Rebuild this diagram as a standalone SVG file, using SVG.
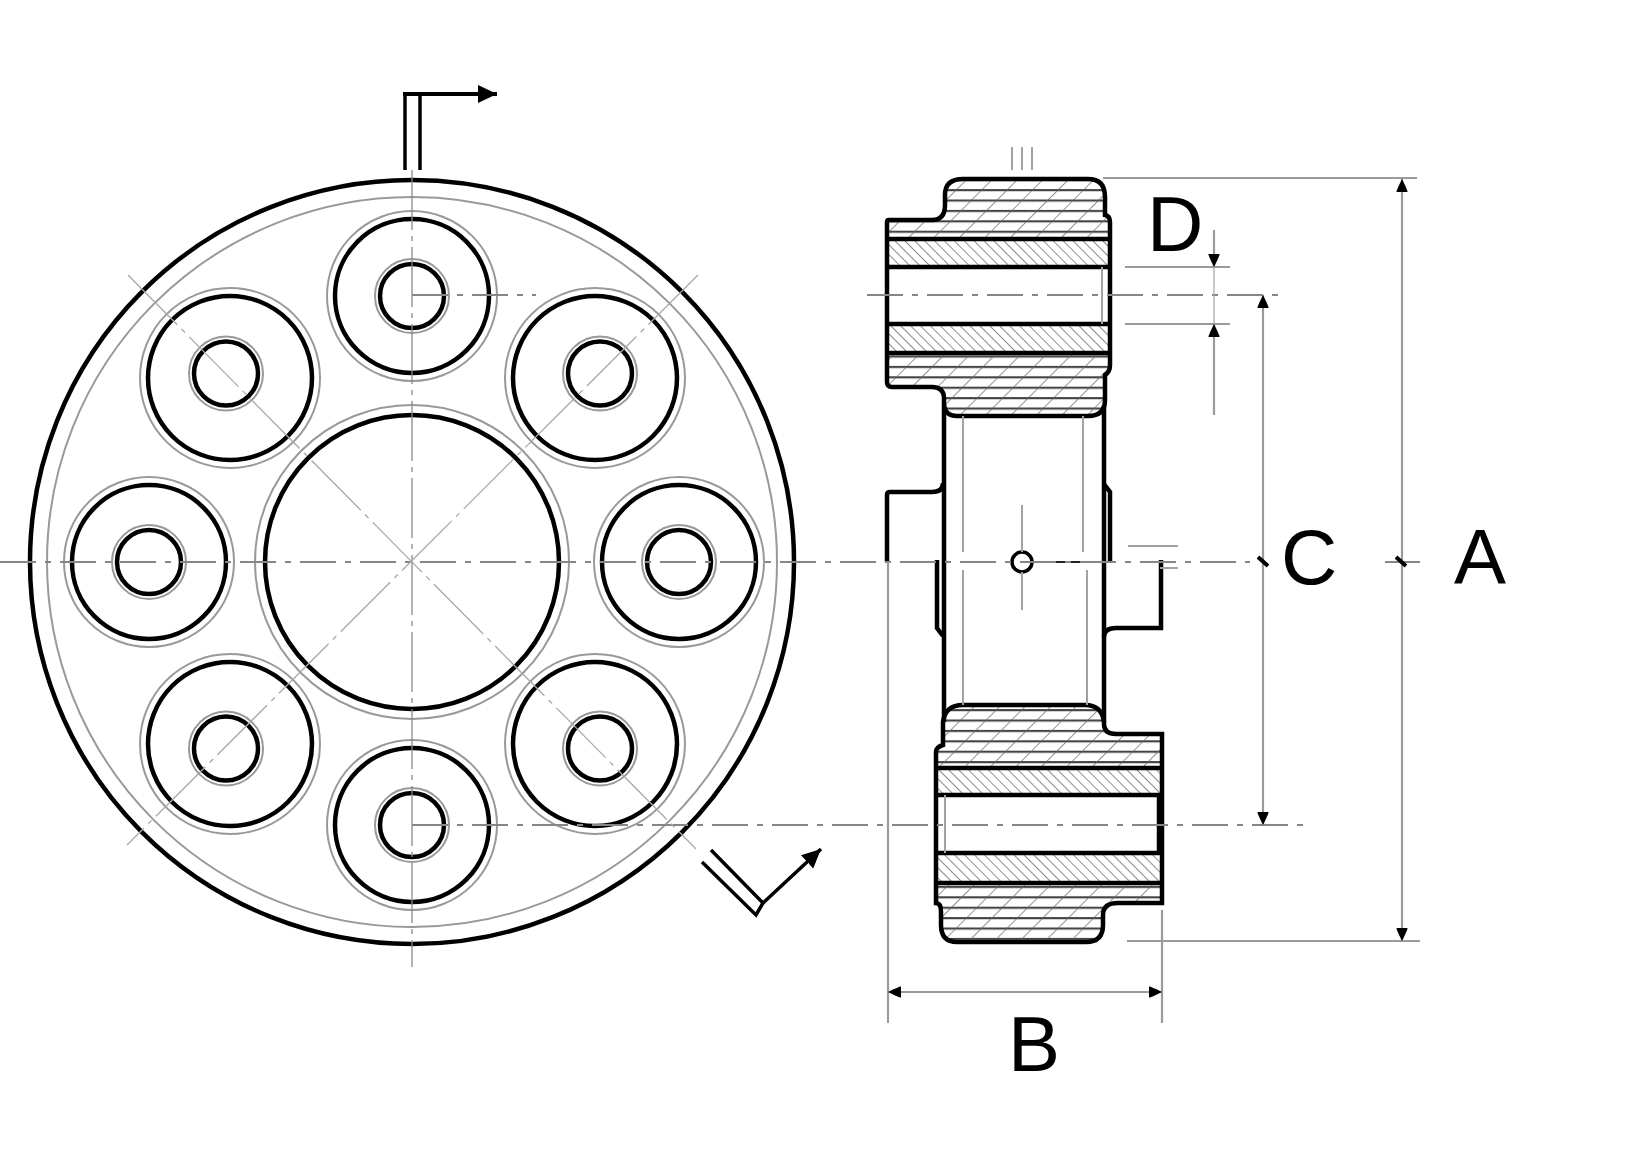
<svg xmlns="http://www.w3.org/2000/svg" width="1625" height="1170" viewBox="0 0 1625 1170">
<style>
.thick{fill:none;stroke:#000;stroke-width:4.500}
.ring{fill:none;stroke:#999;stroke-width:2}
.cl{fill:none;stroke:#868686;stroke-width:2.200;stroke-dasharray:36 9 6 9}
.thin{fill:none;stroke:#a2a2a2;stroke-width:2}
.diag{fill:none;stroke:#a8a8a8;stroke-width:1.300;stroke-dasharray:70 6 5 6}
.dim{fill:none;stroke:#9a9a9a;stroke-width:2.200}
.tick{fill:none;stroke:#000;stroke-width:4}
.lab{font-family:"Liberation Sans",Arial,sans-serif;font-size:78px;fill:#000}
</style>
<defs>
<filter id="soft" x="0" y="0" width="100%" height="100%" filterUnits="userSpaceOnUse"><feGaussianBlur stdDeviation="0.5"/></filter>
<pattern id="hub" patternUnits="userSpaceOnUse" width="34" height="10.400">
<rect width="34" height="10.400" fill="#fff"/>
<path d="M0 3H34" stroke="#444" stroke-width="2"/>
</pattern>
<pattern id="hubd" patternUnits="userSpaceOnUse" width="18" height="30" patternTransform="rotate(45)">
<path d="M0 0V30" stroke="#666" stroke-width="1.400"/>
</pattern>
<pattern id="bush" patternUnits="userSpaceOnUse" width="7" height="8" patternTransform="rotate(-45)">
<rect width="8" height="8" fill="#fff"/>
<path d="M0 0V8" stroke="#8e8e8e" stroke-width="2"/>
</pattern>
<marker id="ah" markerUnits="userSpaceOnUse" markerWidth="16" markerHeight="14" refX="14" refY="7" orient="auto-start-reverse">
<path d="M1 1.500Q2 1 14 7Q2 13 1 12.500Z" fill="#000"/>
</marker>
<marker id="big" markerUnits="userSpaceOnUse" markerWidth="20" markerHeight="20" refX="19" refY="10" orient="auto">
<path d="M0 1L19 10L0 19Z" fill="#000"/>
</marker>
<path id="hubU" d="M887 222Q887 220 889 220L932 220Q945 220 945 205L945 195Q945 179 963 179L1088 179Q1105 179 1105 197L1105 215Q1110 216 1110 222L1110 365Q1110 372 1105 375L1105 400Q1105 416 1088 416L957 416Q944 416 944 403L944 397Q943 387 932 387L892 387Q887 387 887 382Z"/>
<path id="hubL" d="M963 705L1085 705Q1102 705 1104 722L1104 724Q1104 734 1116 734L1162 734L1162 903L1118 903Q1103 903 1103 915L1103 925Q1103 942 1086 942L957 942Q941 942 941 925L941 912Q941 903 936 903L936 752Q936 747 943 745L943 722Q945 705 963 705Z"/>
</defs>
<rect width="1625" height="1170" fill="#fff"/>

<g filter="url(#soft)">
<g id="front-view">
<g id="flange">
<circle cx="412" cy="562" r="382" class="thick"/>
<circle cx="412" cy="562" r="365" class="ring"/>
</g>
<g id="centre-bore">
<circle cx="412" cy="562" r="147" class="thick"/>
<circle cx="412" cy="562" r="157" class="ring"/>
</g>
<g id="hole-top">
<circle cx="412" cy="296" r="77" class="thick"/><circle cx="412" cy="296" r="85" class="ring"/>
<circle cx="412" cy="296" r="32" class="thick"/><circle cx="412" cy="296" r="37" class="ring"/>
</g>
<g id="hole-upper-right">
<circle cx="595" cy="378" r="82" class="thick"/><circle cx="595" cy="378" r="90" class="ring"/>
<circle cx="600" cy="373.500" r="32" class="thick"/><circle cx="600" cy="373.500" r="37" class="ring"/>
</g>
<g id="hole-right">
<circle cx="679" cy="562" r="77" class="thick"/><circle cx="679" cy="562" r="85" class="ring"/>
<circle cx="679" cy="562" r="32" class="thick"/><circle cx="679" cy="562" r="37" class="ring"/>
</g>
<g id="hole-lower-right">
<circle cx="595" cy="744" r="82" class="thick"/><circle cx="595" cy="744" r="90" class="ring"/>
<circle cx="600" cy="748.500" r="32" class="thick"/><circle cx="600" cy="748.500" r="37" class="ring"/>
</g>
<g id="hole-bottom">
<circle cx="412" cy="825" r="77" class="thick"/><circle cx="412" cy="825" r="85" class="ring"/>
<circle cx="412" cy="825" r="32" class="thick"/><circle cx="412" cy="825" r="37" class="ring"/>
</g>
<g id="hole-lower-left">
<circle cx="230" cy="744" r="82" class="thick"/><circle cx="230" cy="744" r="90" class="ring"/>
<circle cx="226" cy="748.500" r="32" class="thick"/><circle cx="226" cy="748.500" r="37" class="ring"/>
</g>
<g id="hole-left">
<circle cx="149" cy="562" r="77" class="thick"/><circle cx="149" cy="562" r="85" class="ring"/>
<circle cx="149" cy="562" r="32" class="thick"/><circle cx="149" cy="562" r="37" class="ring"/>
</g>
<g id="hole-upper-left">
<circle cx="230" cy="378" r="82" class="thick"/><circle cx="230" cy="378" r="90" class="ring"/>
<circle cx="226" cy="373.500" r="32" class="thick"/><circle cx="226" cy="373.500" r="37" class="ring"/>
</g>
</g>

<g id="side-view">
<g id="hub-upper">
<use href="#hubU" fill="url(#hub)"/><use href="#hubU" fill="url(#hubd)"/>
<rect x="889" y="239" width="220" height="28" fill="url(#bush)"/>
<rect x="889" y="324" width="220" height="29" fill="url(#bush)"/>
<rect x="889" y="267" width="220" height="57" fill="#fff"/>
<use href="#hubU" class="thick"/>
<path d="M887 239H1110M889 267H1110M889 324H1110M887 353H1110" class="thick"/>
<path d="M1102 267V324" class="thin"/>
</g>
<g id="hub-lower">
<use href="#hubL" fill="url(#hub)"/><use href="#hubL" fill="url(#hubd)"/>
<rect x="937" y="768" width="224" height="27" fill="url(#bush)"/>
<rect x="937" y="853" width="224" height="30" fill="url(#bush)"/>
<rect x="937" y="795" width="224" height="58" fill="#fff"/>
<use href="#hubL" class="thick"/>
<path d="M936 768H1162M938 795H1160M938 853H1160M936 883H1162" class="thick"/>
<path d="M945 795V853" class="thin"/>
<path d="M1159 795V853" class="thick"/>
</g>
<g id="web">
<path d="M944 405V722M1104 405V722" class="thick"/>
<path d="M963 416V552M963 570V705M1083 416V552M1087 570V705" class="thin"/>
<path d="M887 562V495Q887 492 890 492L932 492Q943 492 943 483" class="thick"/>
<path d="M1104 484L1110 492V561" class="thick"/>
<path d="M937 560V628L943 636" class="thick"/>
<path d="M1161 560V628H1116Q1104 628 1104 637" class="thick"/>
</g>
<g id="grease-nipple">
<circle cx="1022" cy="562" r="10" fill="#fff" stroke="#000" stroke-width="3.500"/>
<path d="M1022 505V552M1022 572V610" class="thin"/>
<path d="M1032 562H1085" stroke="#222" stroke-width="2" fill="none"/>
<path d="M1128 546H1178M1160 568H1178" class="thin"/>
</g>
<path d="M1012 147V170M1022 147V170M1032 147V170" class="thin"/>
</g>

<g id="connectors">
<g id="centre-lines">
<path d="M0 562H1250M1385 562H1420" class="cl"/>
<path d="M867 295H1278" class="cl"/>
<path d="M412 825H1312" class="cl"/>
<path d="M412 295H536" class="cl"/>
<path d="M412 170V967" class="diag" style="stroke:#8a8a8a;stroke-dasharray:60 6 5 6"/>
<path d="M128 275L696 849" class="diag"/>
<path d="M698 275L127 845" class="diag"/>
</g>
<g id="section-arrow-top">
<path d="M405 170V94M420 170V94" class="thick" style="stroke-width:3.500"/>
<path d="M403 94H497" stroke="#000" stroke-width="4" fill="none" marker-end="url(#big)"/>
</g>
<g id="section-arrow-bottom">
<path d="M711 850L763 903L756 915L702 862" class="thick" style="stroke-width:3.500"/>
<path d="M763 903L821 849" stroke="#000" stroke-width="3.500" fill="none" marker-end="url(#big)"/>
</g>
<g id="dim-a">
<path d="M1103 178H1417M1127 941H1420" class="dim"/>
<path d="M1402 179V941" class="dim" marker-start="url(#ah)" marker-end="url(#ah)"/>
<path d="M1396 557L1406 566" class="tick"/>
</g>
<g id="dim-b">
<path d="M888 562V1023M1162 910V1023" class="dim"/>
<path d="M888 992H1162" class="dim" marker-start="url(#ah)" marker-end="url(#ah)"/>
</g>
<g id="dim-c">
<path d="M1263 295V825" class="dim" marker-start="url(#ah)" marker-end="url(#ah)"/>
<path d="M1258 557L1268 566" class="tick"/>
</g>
<g id="dim-d">
<path d="M1125 267H1230M1125 324H1230" class="dim"/>
<path d="M1214 230V267" class="dim" marker-end="url(#ah)"/>
<path d="M1214 415V324" class="dim" marker-end="url(#ah)"/>
<path d="M1214 267V324" class="thin" style="stroke-width:1.200"/>
</g>
</g>
</g>

<g id="labels">
<text class="lab" x="1454" y="584">A</text>
<text class="lab" x="1008" y="1071">B</text>
<text class="lab" x="1281" y="584">C</text>
<text class="lab" x="1147" y="251">D</text>
</g>
</svg>
